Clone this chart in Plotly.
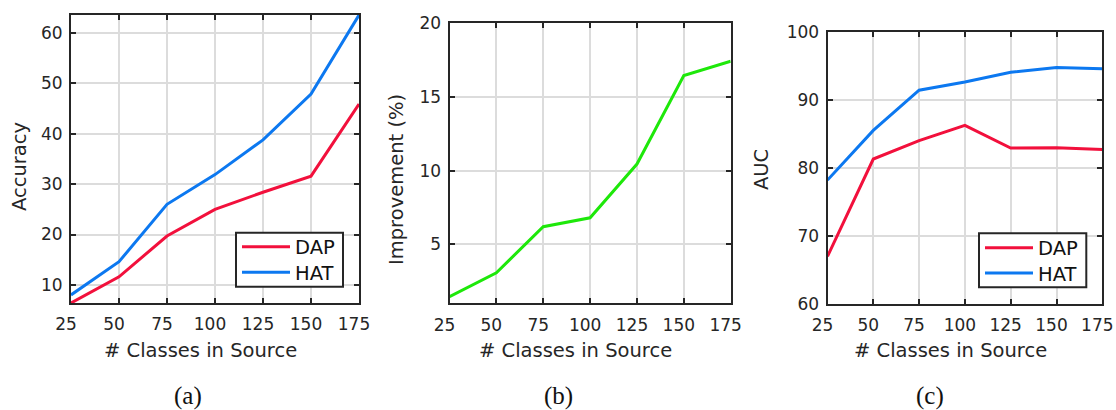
import plotly.graph_objects as go

x_classes = [25, 50, 75, 100, 125, 150, 175]
acc_dap = [6.4, 11.6, 19.7, 25.0, 28.4, 31.6, 45.9]
acc_hat = [8.0, 14.6, 26.0, 31.9, 38.8, 47.9, 63.6]
improvement = [1.45, 3.07, 6.2, 6.8, 10.45, 16.45, 17.43]
auc_dap = [67.0, 81.3, 84.0, 86.25, 82.9, 82.95, 82.7]
auc_hat = [78.2, 85.5, 91.4, 92.6, 94.05, 94.75, 94.55]
x_ticks = [25, 50, 75, 100, 125, 150, 175]

RED = "#f2103c"
BLUE = "#0c78f0"
GREEN = "#1ee80a"
FRAME = "#262626"
GRID = "#dcdcdc"
FONT = "DejaVu Sans, sans-serif"
W, H = 1116, 410

fig = go.Figure()

fig.add_trace(go.Scatter(x=x_classes, y=acc_dap, mode="lines", name="DAP",
                         line=dict(color=RED, width=3), xaxis="x", yaxis="y", legend="legend"))
fig.add_trace(go.Scatter(x=x_classes, y=acc_hat, mode="lines", name="HAT",
                         line=dict(color=BLUE, width=3), xaxis="x", yaxis="y", legend="legend2"))
fig.add_trace(go.Scatter(x=x_classes, y=improvement, mode="lines", name="Improvement",
                         line=dict(color=GREEN, width=3), xaxis="x2", yaxis="y2", showlegend=False))
fig.add_trace(go.Scatter(x=x_classes, y=auc_dap, mode="lines", name="DAP",
                         line=dict(color=RED, width=3), xaxis="x3", yaxis="y3", legend="legend3"))
fig.add_trace(go.Scatter(x=x_classes, y=auc_hat, mode="lines", name="HAT",
                         line=dict(color=BLUE, width=3), xaxis="x3", yaxis="y3", legend="legend4"))

def px_x(p):
    return p / W

def px_y(p):
    return 1 - p / H

panels = [
    dict(x0=71, x1=359, y0=15, y1=303, yr=[6.4, 63.6], yt=[10, 20, 30, 40, 50, 60]),
    dict(x0=449.5, x1=730.7, y0=23.3, y1=303.3, yr=[1.0, 20], yt=[5, 10, 15, 20]),
    dict(x0=827.5, x1=1102.3, y0=31.7, y1=304, yr=[60, 100], yt=[60, 70, 80, 90, 100]),
]

axis_common = dict(showline=True, linewidth=2, linecolor=FRAME, mirror="ticks",
                   ticks="inside", ticklen=5, tickwidth=2, tickcolor=FRAME,
                   showgrid=True, gridcolor=GRID, gridwidth=2, zeroline=False,
                   automargin=False,
                   tickfont=dict(family=FONT, size=17, color="#262626"))

layout = dict(width=W, height=H, margin=dict(l=0, r=0, t=0, b=0, autoexpand=False),
              paper_bgcolor="white", plot_bgcolor="white", showlegend=True)

for i, p in enumerate(panels):
    sx = "" if i == 0 else str(i + 1)
    layout["xaxis" + sx] = dict(domain=[px_x(p["x0"]), px_x(p["x1"])],
                                range=[25, 175], tickvals=x_ticks,
                                ticklabelstandoff=5, ticklabelshift=-5,
                                anchor="y" + sx, **axis_common)
    layout["yaxis" + sx] = dict(domain=[px_y(p["y1"]), px_y(p["y0"])],
                                range=p["yr"], tickvals=p["yt"],
                                ticklabelstandoff=3,
                                anchor="x" + sx, **axis_common)

legend_common = dict(bgcolor="rgba(0,0,0,0)", borderwidth=0,
                     font=dict(family=FONT, size=19.5, color="#111111"),
                     itemwidth=48, tracegroupgap=0,
                     xanchor="left", yanchor="middle")
layout["legend"] = dict(x=px_x(237), y=px_y(247), **legend_common)
layout["legend2"] = dict(x=px_x(237), y=px_y(272.7), **legend_common)
layout["legend3"] = dict(x=px_x(980), y=px_y(248), **legend_common)
layout["legend4"] = dict(x=px_x(980), y=px_y(273.3), **legend_common)

# legend frames
shapes = []
for (bx0, by0, bx1, by1) in [(236, 232.7, 343, 286.7), (979, 233.3, 1086.3, 287.3)]:
    shapes.append(dict(type="rect", xref="paper", yref="paper",
                       x0=px_x(bx0), x1=px_x(bx1), y0=px_y(by1), y1=px_y(by0),
                       fillcolor="white", line=dict(color=FRAME, width=2), layer="above"))
layout["shapes"] = shapes

fig.update_layout(**layout)

ann = []
xtitle_centers = [200.5, 575, 950]
for cx in xtitle_centers:
    ann.append(dict(text="# Classes in Source", x=px_x(cx), y=px_y(350), xref="paper", yref="paper",
                    showarrow=False, xanchor="center", yanchor="middle",
                    font=dict(family=FONT, size=19.5, color="#262626")))
ytitles = [("Accuracy", 20, 167), ("Improvement (%)", 397, 180), ("AUC", 762, 169)]
for t, cx, cy in ytitles:
    ann.append(dict(text=t, x=px_x(cx), y=px_y(cy), xref="paper", yref="paper",
                    showarrow=False, xanchor="center", yanchor="middle", textangle=-90,
                    font=dict(family=FONT, size=19.5, color="#262626")))
subcaps = [("(a)", 187.5), ("(b)", 558.7), ("(c)", 929.7)]
for t, cx in subcaps:
    ann.append(dict(text=t, x=px_x(cx), y=px_y(396), xref="paper", yref="paper",
                    showarrow=False, xanchor="center", yanchor="middle",
                    font=dict(family="Liberation Serif, DejaVu Serif, serif", size=25, color="#111111")))
fig.update_layout(annotations=ann)

fig.write_html("out.html")
